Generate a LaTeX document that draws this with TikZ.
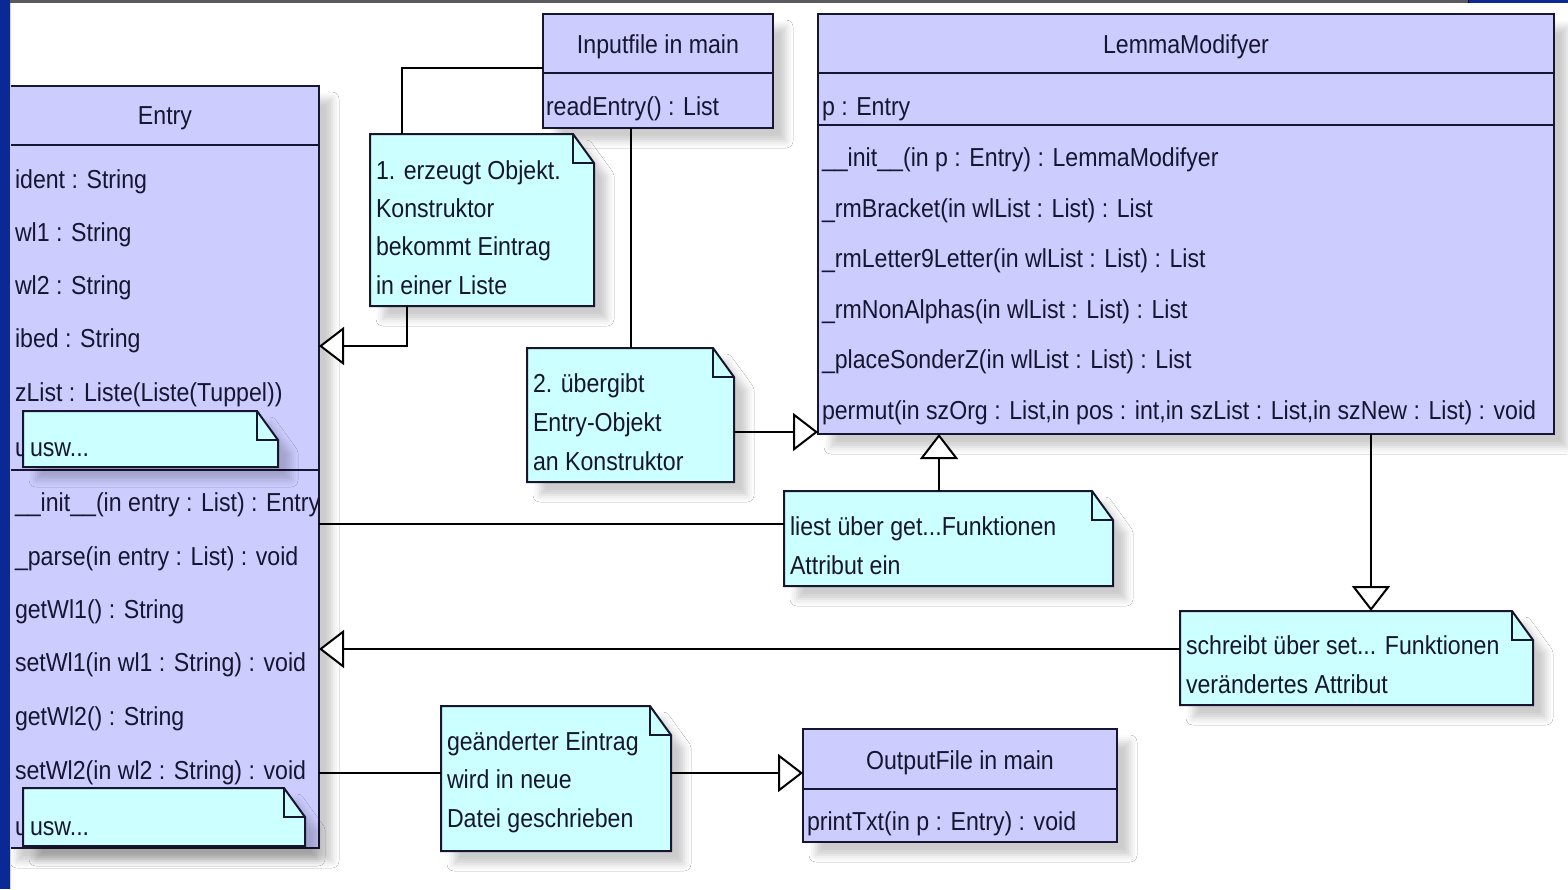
\documentclass[tikz,border=0pt]{standalone}
\usepackage{fontspec}
\setmainfont{Liberation Sans}[FakeStretch=0.89]
\usetikzlibrary{arrows.meta,shadows.blur}

\definecolor{classfill}{RGB}{204,204,255}
\definecolor{notefill}{RGB}{204,255,255}
\definecolor{ink}{RGB}{22,22,48}
\definecolor{strip}{RGB}{10,40,150}
\definecolor{panelrule}{RGB}{90,90,95}

% note outline with a folded top-right corner, drawn over the box node #1
\newcommand\dogear[1]{%
  \filldraw[noteshape, softshadow]
    (#1.north west) -- ([xshift=-21pt]#1.north east) -- ([yshift=-29pt]#1.north east)
    -- (#1.south east) -- (#1.south west) -- cycle;
  \draw[noteshape, fill=none]
    ([xshift=-21pt]#1.north east) |- ([yshift=-29pt]#1.north east);
}

\begin{document}
\begin{tikzpicture}[x=1pt,y=-1pt,
  every node/.style={font=\fontsize{26pt}{30pt}\selectfont, text=ink, inner sep=0pt, outer sep=0pt},
  softshadow/.style={blur shadow={shadow xshift=13pt, shadow yshift=-13pt,
      shadow blur radius=7pt, shadow opacity=20}},
  umlclass/.style={rectangle, draw=ink, line width=2pt, fill=classfill, softshadow, anchor=north west},
  notebox/.style={rectangle, anchor=north west},
  noteshape/.style={draw=ink, line width=2pt, fill=notefill, line join=miter},
  rule/.style={draw=ink, line width=2pt},
  txt/.style={anchor=base west},
  ttl/.style={anchor=base},
  conn/.style={draw=black, line width=2pt},
  gen/.style={-{Triangle[length=25pt,width=38pt,fill=white]}}
]
\useasboundingbox (0,0) rectangle (1568,889);
\fill[white] (0,0) rectangle (1568,889);

% ---------------- class Entry ----------------
\node[umlclass, minimum width=315pt, minimum height=762pt] (entry) at (4,86) {};
\draw[rule] (entry.west |- 0,145) -- (entry.east |- 0,145);
\draw[rule] (entry.west |- 0,470) -- (entry.east |- 0,470);
\node[ttl] (entry-t) at (165,124) {Entry};
\node[txt] (entry-a1) at (15,188) {ident : String};
\node[txt] (entry-a2) at (15,241) {wl1 : String};
\node[txt] (entry-a3) at (15,294) {wl2 : String};
\node[txt] (entry-a4) at (15,347) {ibed : String};
\node[txt] (entry-a5) at (15,401) {zList : Liste(Liste(Tuppel))};
\node[txt] (entry-o1) at (15,511) {\_\_init\_\_(in entry : List) : Entry};
\node[txt] (entry-o2) at (15,565) {\_parse(in entry : List) : void};
\node[txt] (entry-o3) at (15,618) {getWl1() : String};
\node[txt] (entry-o4) at (15,671) {setWl1(in wl1 : String) : void};
\node[txt] (entry-o5) at (15,725) {getWl2() : String};
\node[txt] (entry-o6) at (15,779) {setWl2(in wl2 : String) : void};
% the last row of each compartment mostly hidden under a note
\begin{scope}
  \clip (11,420) rectangle (23,470);
  \node[txt] (entry-a6) at (15,456) {usw...};
\end{scope}
\begin{scope}
  \clip (11,795) rectangle (23,846);
  \node[txt] (entry-o7) at (15,835) {usw...};
\end{scope}

% notes lying on top of the Entry class
\node[notebox, minimum width=255pt, minimum height=56pt] (u1) at (23,411) {};
\dogear{u1}
\node[txt] (u1-1) at (30,456) {usw...};
\node[notebox, minimum width=282pt, minimum height=58pt] (u2) at (23,788) {};
\dogear{u2}
\node[txt] (u2-1) at (30,835) {usw...};

% ---------------- class Inputfile in main ----------------
\node[umlclass, minimum width=230pt, minimum height=114pt] (inp) at (543,14) {};
\draw[rule] (inp.west |- 0,73) -- (inp.east |- 0,73);
\node[ttl] (inp-t) at (658,53) {Inputfile in main};
\node[txt] (inp-o1) at (546,115) {readEntry() : List};

% ---------------- class LemmaModifyer ----------------
\node[umlclass, minimum width=736pt, minimum height=420pt] (lem) at (818,14) {};
\draw[rule] (lem.west |- 0,73) -- (lem.east |- 0,73);
\draw[rule] (lem.west |- 0,125) -- (lem.east |- 0,125);
\node[ttl] (lem-t) at (1186,53) {LemmaModifyer};
\node[txt] (lem-a1) at (822,115) {p : Entry};
\node[txt] (lem-o1) at (822,166) {\_\_init\_\_(in p : Entry) : LemmaModifyer};
\node[txt] (lem-o2) at (822,217) {\_rmBracket(in wlList : List) : List};
\node[txt] (lem-o3) at (822,267) {\_rmLetter9Letter(in wlList : List) : List};
\node[txt] (lem-o4) at (822,318) {\_rmNonAlphas(in wlList : List) : List};
\node[txt] (lem-o5) at (822,368) {\_placeSonderZ(in wlList : List) : List};
\node[txt] (lem-o6) at (822,419) {permut(in szOrg : List,in pos : int,in szList : List,in szNew : List) : void};

% ---------------- class OutputFile in main ----------------
\node[umlclass, minimum width=314pt, minimum height=113pt] (out) at (803,729) {};
\draw[rule] (out.west |- 0,789) -- (out.east |- 0,789);
\node[ttl] (out-t) at (960,769) {OutputFile in main};
\node[txt] (out-o1) at (807,830) {printTxt(in p : Entry) : void};

% ---------------- notes ----------------
\node[notebox, minimum width=224pt, minimum height=172pt] (n1) at (370,134) {};
\dogear{n1}
\node[txt] (n1-1) at (376,179) {1. erzeugt Objekt.};
\node[txt] (n1-2) at (376,217) {Konstruktor};
\node[txt] (n1-3) at (376,255) {bekommt Eintrag};
\node[txt] (n1-4) at (376,294) {in einer Liste};

\node[notebox, minimum width=207pt, minimum height=134pt] (n2) at (527,348) {};
\dogear{n2}
\node[txt] (n2-1) at (533,392) {2. übergibt};
\node[txt] (n2-2) at (533,431) {Entry-Objekt};
\node[txt] (n2-3) at (533,470) {an Konstruktor};

\node[notebox, minimum width=329pt, minimum height=95pt] (n3) at (784,491) {};
\dogear{n3}
\node[txt] (n3-1) at (790,535) {liest über get...Funktionen};
\node[txt] (n3-2) at (790,574) {Attribut ein};

\node[notebox, minimum width=353pt, minimum height=94pt] (n4) at (1180,611) {};
\dogear{n4}
\node[txt] (n4-1) at (1186,654) {schreibt über set... Funktionen};
\node[txt] (n4-2) at (1186,693) {verändertes Attribut};

\node[notebox, minimum width=230pt, minimum height=145pt] (n5) at (441,706) {};
\dogear{n5}
\node[txt] (n5-1) at (447,750) {geänderter Eintrag};
\node[txt] (n5-2) at (447,788) {wird in neue};
\node[txt] (n5-3) at (447,827) {Datei geschrieben};

% ---------------- connectors ----------------
\draw[conn] (inp.west |- 0,68) -| (n1.north -| 402,0);
\draw[conn, gen] (n1.south -| 407,0) |- (entry.east |- 0,346);
\draw[conn] (inp.south -| 631,0) -- (n2.north -| 631,0);
\draw[conn, gen] (n2.east |- 0,432) -- (lem.west |- 0,432);
\draw[conn, gen] (n3.north -| 939,0) -- (lem.south -| 939,0);
\draw[conn] (n3.west |- 0,524) -- (entry.east |- 0,524);
\draw[conn, gen] (lem.south -| 1371,0) -- (n4.north -| 1371,0);
\draw[conn, gen] (n4.west |- 0,649) -- (entry.east |- 0,649);
\draw[conn] (entry.east |- 0,773) -- (n5.west |- 0,773);
\draw[conn, gen] (n5.east |- 0,773) -- (out.west |- 0,773);

% ---------------- window frame ----------------
\fill[panelrule] (10,0) rectangle (1468,3);
\fill[strip] (1468,0) rectangle (1568,3);
\draw[black, line width=1pt] (1468,0) -- (1468,3);
\draw[gray!35, line width=1pt] (10.5,3) -- (10.5,889);
\fill[strip] (0,0) rectangle (10,889);
\end{tikzpicture}
\end{document}
